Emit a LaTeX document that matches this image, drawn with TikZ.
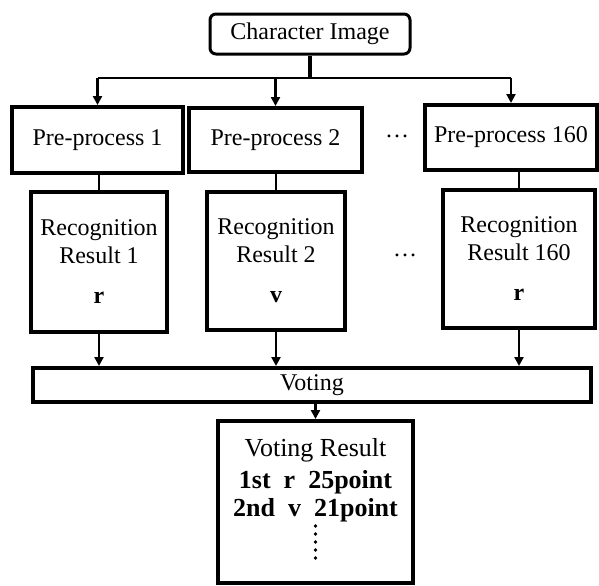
\documentclass[tikz,border=0pt]{standalone}
\usepackage{fontspec}
\setmainfont{Liberation Serif}
\usetikzlibrary{arrows.meta}

\begin{document}
\begin{tikzpicture}[x=0.5pt,y=-0.5pt,
    box/.style={draw,line width=2pt,align=center,inner sep=0pt,
      font=\fontsize{12}{14}\selectfont},
    link/.style={line width=1.2pt},
    arr/.style={line width=1.2pt,-{Triangle[length=4.5pt,width=4.5pt]}}]
  \useasboundingbox (0,0) rectangle (599,585);
  % input and pre-processing
  \node[box,rounded corners=3pt,line width=1.5pt,minimum width=100pt,minimum height=20pt]
    (img) at (310,34) {Character Image};
  \node[box,minimum width=85.5pt,minimum height=33pt] (pre1) at (97.5,140) {Pre-process 1};
  \node[box,minimum width=86.5pt,minimum height=32pt] (pre2) at (275.5,140) {Pre-process 2};
  \node[box,minimum width=86pt,minimum height=32.5pt] (pre160) at (511,137.5) {Pre-process 160};
  \node[font=\fontsize{12}{14}\selectfont] (dots1) at (397,136) {\dots};
  % recognition results
  \node[box,minimum width=68pt,minimum height=70pt] (rec1) at (99,262)
    {Recognition\\Result 1\\[6pt]\textbf{r}};
  \node[box,minimum width=69pt,minimum height=69pt] (rec2) at (276,261)
    {Recognition\\Result 2\\[6pt]\textbf{v}};
  \node[box,minimum width=76pt,minimum height=69pt] (rec160) at (519,259)
    {Recognition\\Result 160\\[6pt]\textbf{r}};
  \node[font=\fontsize{12}{14}\selectfont] (dots2) at (405,255) {\dots};
  % voting
  \node[box,minimum width=279pt,minimum height=17pt] (vote) at (312,385) {Voting};
  \node[box,minimum width=97.5pt,minimum height=81pt,font=\fontsize{13}{14}\selectfont]
    (res) at (315.5,502)
    {Voting Result\\[2pt]\textbf{1st~~r~~25point}\\\textbf{2nd~~v~~21point}\\[2pt]\rule{0pt}{19pt}};
  \foreach \k in {0,...,4}
    \fill (res.center) ++(0,24+\k*8) circle (1.8);

  \coordinate (bus) at (310,78);
  \draw[line width=1.8pt] (img) -- (bus);
  \draw[link] (pre1 |- bus) -- (pre160 |- bus);
  \foreach \n in {pre1,pre2,pre160}
    \draw[arr] (\n |- bus) -- (\n.north);
  \draw[link] (rec1.north) -- (rec1.north |- pre1.south);
  \draw[link] (rec2.north) -- (rec2.north |- pre2.south);
  \draw[link] (rec160.north) -- (rec160.north |- pre160.south);
  \foreach \n in {rec1,rec2,rec160}
    \draw[arr] (\n.south) -- (\n.south |- vote.north);
  \draw[arr] (res.north |- vote.south) -- (res.north);
\end{tikzpicture}
\end{document}
